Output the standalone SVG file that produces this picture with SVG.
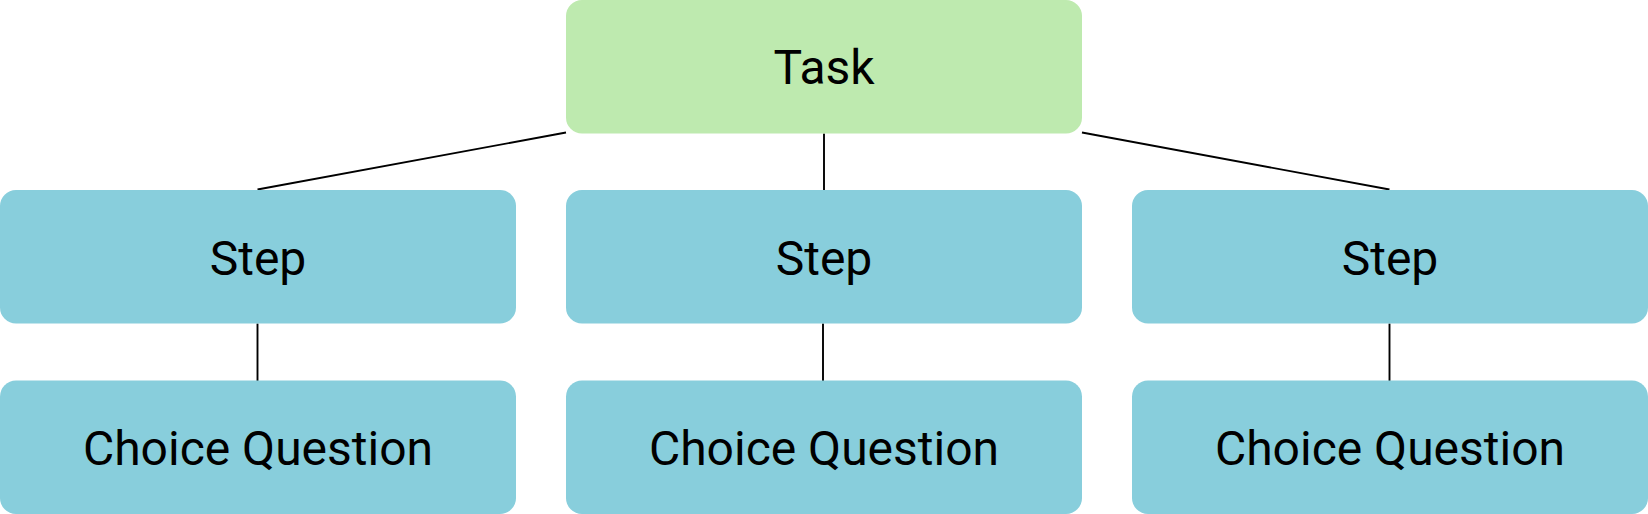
<svg xmlns="http://www.w3.org/2000/svg" width="1648" height="514" viewBox="0 0 1648 514">
<style>
.task{fill:#BEEAAF}
.box{fill:#88CEDC}
.lbl{font-family:Roboto,"Liberation Sans",sans-serif;font-size:48px;fill:#000;text-anchor:middle}
.edge{stroke:#000;stroke-width:1.9;fill:none}
</style>
<rect width="1648" height="514" fill="#fff"/>
<g id="connectors">
<line class="edge" x1="566" y1="132.5" x2="257.5" y2="189.5"/>
<line class="edge" x1="824" y1="133.5" x2="824" y2="190"/>
<line class="edge" x1="1082" y1="132.5" x2="1389.5" y2="189.5"/>
<line class="edge" x1="257.5" y1="323.5" x2="257.5" y2="381"/>
<line class="edge" x1="823" y1="323.5" x2="823" y2="381"/>
<line class="edge" x1="1389.5" y1="323.5" x2="1389.5" y2="381"/>
</g>
<g id="task"><rect class="task" x="566" y="0" width="516" height="133.5" rx="16"/><text class="lbl" x="824" y="84">Task</text></g>
<g id="step1"><rect class="box" x="0" y="190" width="516" height="133.5" rx="16"/><text class="lbl" x="258" y="274.5">Step</text></g>
<g id="step2"><rect class="box" x="566" y="190" width="516" height="133.5" rx="16"/><text class="lbl" x="824" y="274.5">Step</text></g>
<g id="step3"><rect class="box" x="1132" y="190" width="516" height="133.5" rx="16"/><text class="lbl" x="1390" y="274.5">Step</text></g>
<g id="choice1"><rect class="box" x="0" y="380.5" width="516" height="133.5" rx="16"/><text class="lbl" x="258" y="464.5">Choice Question</text></g>
<g id="choice2"><rect class="box" x="566" y="380.5" width="516" height="133.5" rx="16"/><text class="lbl" x="824" y="464.5">Choice Question</text></g>
<g id="choice3"><rect class="box" x="1132" y="380.5" width="516" height="133.5" rx="16"/><text class="lbl" x="1390" y="464.5">Choice Question</text></g>
</svg>
